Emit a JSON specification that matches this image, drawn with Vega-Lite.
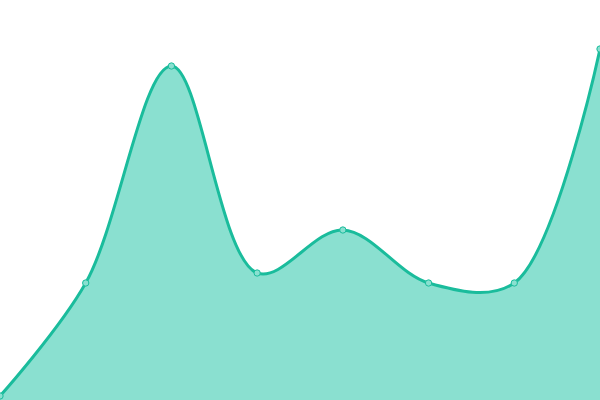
{
  "$schema": "https://vega.github.io/schema/vega-lite/v6.json",
  "width": 600,
  "height": 400,
  "autosize": {"type": "none"},
  "padding": 0,
  "background": "white",
  "data": {
    "values": [
      {"i": 0, "v": 4},
      {"i": 1, "v": 117},
      {"i": 2, "v": 334},
      {"i": 3, "v": 127},
      {"i": 4, "v": 170},
      {"i": 5, "v": 117},
      {"i": 6, "v": 117},
      {"i": 7, "v": 351}
    ]
  },
  "encoding": {
    "x": {"field": "i", "type": "quantitative", "axis": null, "scale": {"domain": [0, 7], "nice": false, "zero": false}},
    "y": {"field": "v", "type": "quantitative", "axis": null, "scale": {"domain": [0, 400], "nice": false}}
  },
  "layer": [
    {"mark": {"type": "area", "interpolate": "catmull-rom", "color": "#8ae0d0", "opacity": 1}},
    {"mark": {"type": "line", "interpolate": "catmull-rom", "color": "#1abc9c", "strokeWidth": 3}},
    {"mark": {"type": "point", "filled": true, "size": 40, "fill": "#8ae0d0", "stroke": "#1abc9c", "strokeWidth": 1, "opacity": 1}}
  ],
  "config": {"view": {"stroke": null}}
}
